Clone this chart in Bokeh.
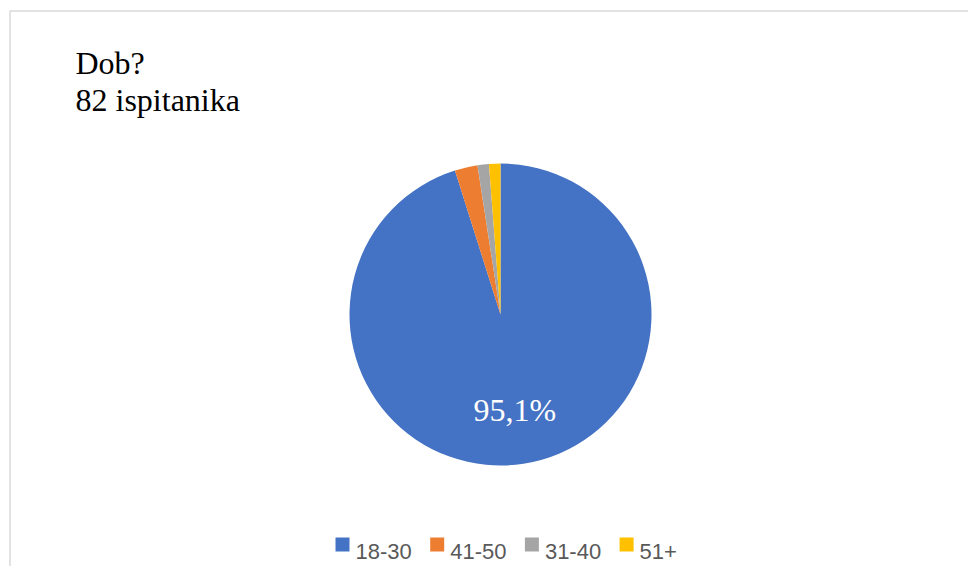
import math
from bokeh.plotting import figure
from bokeh.models import Range1d, ColumnDataSource
from bokeh.core.properties import value
from bokeh.embed import file_html
from bokeh.resources import INLINE

# ---- data ----
title_lines = ["Dob?", "82 ispitanika"]
categories = ["18-30", "41-50", "31-40", "51+"]
counts = [78, 2, 1, 1]
colors = ["#4472C4", "#ED7D31", "#A5A5A5", "#FFC000"]

W, H = 968, 566
TOP = 574
p = figure(width=W, height=H, output_backend="svg", toolbar_location=None,
           x_range=Range1d(0, W), y_range=Range1d(TOP - H, TOP),
           x_axis_type=None, y_axis_type=None, min_border=0)
p.grid.visible = False
p.outline_line_color = None
p.background_fill_color = "white"
p.border_fill_color = "white"

# chart-area border (top and left visible; right/bottom beyond the window)
p.line(x=[9.5, 9.5, W + 20], y=[-20, TOP - 10.5, TOP - 10.5], line_color="#d9d9d9", line_width=1.5)

# pie
cx, cy, R = 500, 260, 151
total = sum(counts)
fracs = [c / total for c in counts]
starts, ends, cum = [], [], 0.0
for f in fracs:
    ends.append(math.pi / 2 - 2 * math.pi * cum)
    cum += f
    starts.append(math.pi / 2 - 2 * math.pi * cum)
src = ColumnDataSource(dict(x=[cx] * len(counts), y=[cy] * len(counts),
                            start=starts, end=ends, color=colors, cat=categories))
p.wedge(x="x", y="y", radius=R, start_angle="start", end_angle="end",
        fill_color="color", line_color=None, source=src)

# data label on the big slice
mid = (starts[0] + ends[0]) / 2
lab = f"{fracs[0] * 100:.1f}%".replace(".", ",")
p.text(x=[cx + 0.58 * R * math.cos(mid) + 1], y=[cy + 0.58 * R * math.sin(mid) - 8.5], text=[lab],
       text_font=value("Liberation Serif"), text_font_size="32px", text_color="white",
       text_align="center", text_baseline="alphabetic")

# title
p.text(x=[75, 75], y=[TOP - 62, TOP - 99], text=title_lines,
       text_font=value("Liberation Serif"), text_font_size="32px", text_color="black",
       text_align="left", text_baseline="alphabetic")

# legend
x0, step = 335, 94.7
lx = [x0 + i * step for i in range(len(categories))]
p.rect(x=[v + 7 for v in lx], y=[TOP - 544] * len(categories), width=14, height=14,
       fill_color=colors, line_color=None)
p.text(x=[v + 20 for v in lx], y=[TOP - 551] * len(categories), text=categories,
       text_font=value("Liberation Sans"), text_font_size="22px", text_color="#595959",
       text_align="left", text_baseline="alphabetic")

open("out.html", "w").write(file_html(p, INLINE))
